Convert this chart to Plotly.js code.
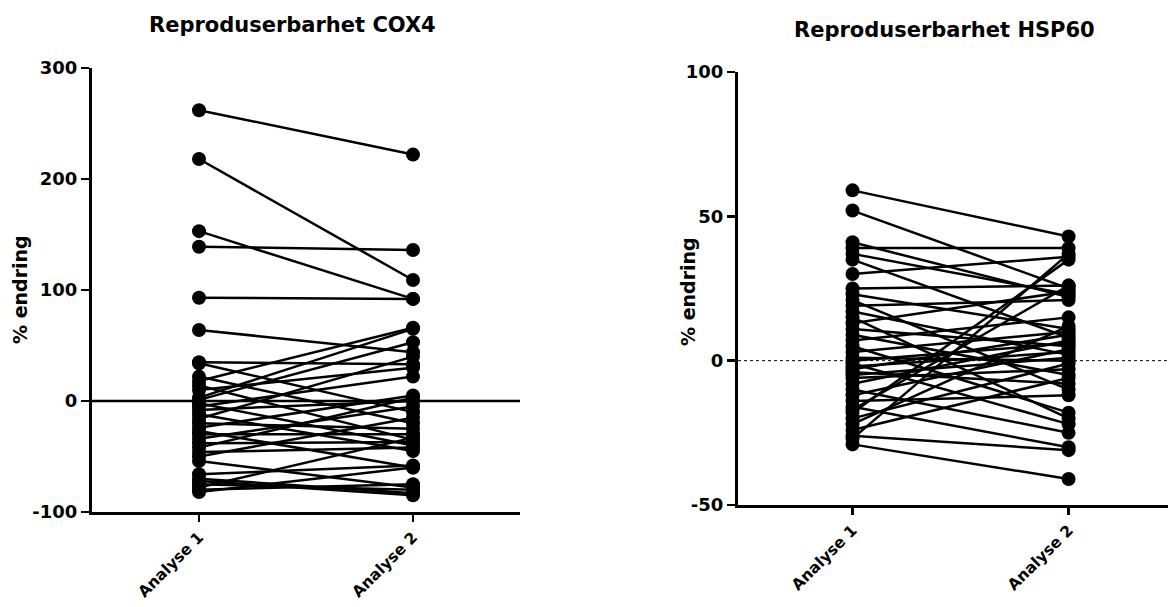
<!DOCTYPE html>
<html>
<head>
<meta charset="utf-8">
<script src="https://cdn.plot.ly/plotly-3.0.1.min.js"></script>
<style>html,body{margin:0;padding:0;background:#fff;}#chart{width:1168px;height:607px;}</style>
</head>
<body>
<div id="chart"></div>
<script>
// ---- data ----
const categories = ["Analyse 1", "Analyse 2"];
const titles = ["Reproduserbarhet COX4", "Reproduserbarhet HSP60"];
const yLabel = "% endring";

const cox4Analyse1 = [262, 218, 153, 139, 93, 64, 35, 34, 22, 18, 14, 10, 3, 1, -2, -5, -8, -12, -16, -20, -24, -27, -30, -34, -38, -42, -46, -50, -54, -66, -70, -72, -75, -78, -80, -82];
const cox4Analyse2 = [222, 109, 92, 136, 92, 44, 33, -10, -20, 66, -35, 30, 65, 53, -40, 22, 0, -45, 40, -25, 5, -60, -30, -5, -37, 3, -42, -15, -78, -58, -83, -85, -80, -33, -75, -60];

const hspAnalyse1 = [59, 52, 41, 39, 37, 35, 30, 25, 23, 21, 19, 17, 15, 13, 11, 9, 7, 5, 3, 1, 0, -1, -2, -3, -4, -5, -6, -8, -10, -12, -14, -16, -18, -20, -22, -24, -26, -27, -29, -17];
const hspAnalyse2 = [43, 25, 22, 39, 23, 8, 36, 26, 11, -10, 21, 2, -20, 24, 5, -5, 15, -18, 10, 0, 6, -22, 3, 9, -8, 1, -3, 7, -25, 4, -12, -30, 35, -1, 12, -6, -31, 37, -41, 26];

const cox4Ticks = [-100, 0, 100, 200, 300];
const hspTicks = [-50, 0, 50, 100];

// ---- build paired segments ----
function pairs(a, b) {
  const x = [], y = [];
  for (let i = 0; i < a.length; i++) {
    x.push(0, 1, null);
    y.push(a[i], b[i], null);
  }
  return {x, y};
}
const p1 = pairs(cox4Analyse1, cox4Analyse2);
const p2 = pairs(hspAnalyse1, hspAnalyse2);

const FONT = "DejaVu Sans, Liberation Sans, Arial, sans-serif";
const bold = s => "<b>" + s + "</b>";
const style = {
  mode: "lines+markers",
  line: {color: "#000", width: 2.5},
  marker: {color: "#000", size: 14},
  hoverinfo: "skip",
  showlegend: false,
  cliponaxis: false
};
const traces = [
  Object.assign({x: p1.x, y: p1.y, xaxis: "x", yaxis: "y"}, style),
  Object.assign({x: p2.x, y: p2.y, xaxis: "x2", yaxis: "y2"}, style)
];

function xAxis(domain, range, anchor) {
  return {
    domain: domain, range: range, anchor: anchor,
    tickvals: [0, 1], ticktext: categories.map(bold), tickangle: -45,
    showline: true, linecolor: "#000", linewidth: 3,
    ticks: "outside", ticklen: 7, tickwidth: 2.5, tickcolor: "#000",
    showgrid: false, zeroline: false, fixedrange: true,
    tickfont: {family: FONT, size: 15.5, color: "#000"}
  };
}
function yAxis(domain, range, ticks, anchor) {
  return {
    domain: domain, range: range, anchor: anchor,
    tickvals: ticks, ticktext: ticks.map(v => bold(String(v))),
    showline: true, linecolor: "#000", linewidth: 3,
    ticks: "outside", ticklen: 8, tickwidth: 2.5, tickcolor: "#000",
    showgrid: false, zeroline: false, fixedrange: true,
    tickfont: {family: FONT, size: 18, color: "#000"}
  };
}

const W = 1168, H = 607;
const layout = {
  width: W, height: H,
  margin: {l: 0, r: 0, t: 0, b: 0},
  paper_bgcolor: "#fff", plot_bgcolor: "#fff",
  xaxis: xAxis([92 / W, 520 / W], [-0.5, 1.5], "y"),
  yaxis: yAxis([(H - 512) / H, (H - 68) / H], [-100, 300], cox4Ticks, "x"),
  xaxis2: xAxis([738 / W, 1], [-0.53, 1.46], "y2"),
  yaxis2: yAxis([(H - 505) / H, (H - 72) / H], [-50, 100], hspTicks, "x2"),
  shapes: [
    {type: "line", xref: "x domain", yref: "y", x0: 0, x1: 1, y0: 0, y1: 0,
     line: {color: "#000", width: 2.5}, layer: "below"},
    {type: "line", xref: "x2 domain", yref: "y2", x0: 0, x1: 1, y0: 0, y1: 0,
     line: {color: "#000", width: 1, dash: "dot"}, layer: "below"}
  ],
  annotations: [
    {text: bold(titles[0]), xref: "paper", yref: "paper", x: 292 / W, y: (H - 25) / H,
     xanchor: "center", yanchor: "middle", showarrow: false,
     font: {family: FONT, size: 21, color: "#000"}},
    {text: bold(titles[1]), xref: "paper", yref: "paper", x: 944 / W, y: (H - 30) / H,
     xanchor: "center", yanchor: "middle", showarrow: false,
     font: {family: FONT, size: 21, color: "#000"}},
    {text: bold(yLabel), xref: "paper", yref: "paper", x: 20 / W, y: (H - 290) / H,
     xanchor: "center", yanchor: "middle", showarrow: false, textangle: -90,
     font: {family: FONT, size: 19, color: "#000"}},
    {text: bold(yLabel), xref: "paper", yref: "paper", x: 688 / W, y: (H - 292) / H,
     xanchor: "center", yanchor: "middle", showarrow: false, textangle: -90,
     font: {family: FONT, size: 19, color: "#000"}}
  ]
};

Plotly.newPlot("chart", traces, layout, {staticPlot: true, displayModeBar: false});
</script>
</body>
</html>
